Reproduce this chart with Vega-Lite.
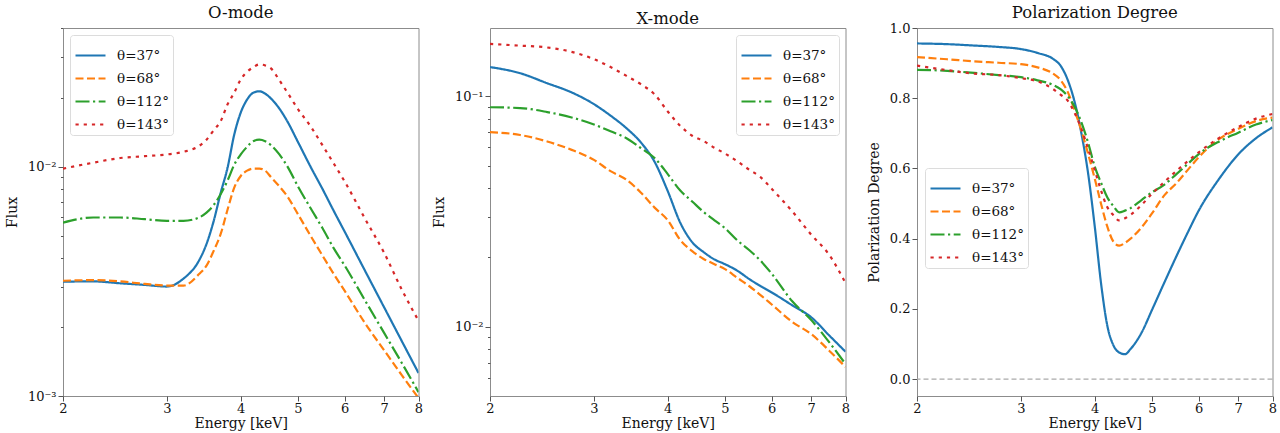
{
  "$schema": "https://vega.github.io/schema/vega-lite/v6.json",
  "padding": {"left": 4, "top": 4, "right": 2, "bottom": 0},
  "spacing": 71,
  "bounds": "flush",
  "config": {
    "font": "DejaVu Serif",
    "view": {"stroke": "#8c8c8c", "strokeWidth": 1},
    "axis": {
      "domain": false, "grid": false,
      "labelFont": "DejaVu Serif", "labelFontSize": 13, "labelColor": "#111",
      "titleFont": "DejaVu Serif", "titleFontSize": 14, "titleFontWeight": "normal", "titleColor": "#111",
      "tickColor": "#555", "labelFlush": false, "labelOverlap": false
    },
    "title": {"font": "DejaVu Serif", "fontSize": 16.5, "fontWeight": "normal", "color": "#111", "offset": 1},
    "legend": {
      "symbolType": "stroke", "symbolStrokeWidth": 2.2, "symbolSize": 900,
      "labelFont": "DejaVu Serif", "labelFontSize": 13.5, "labelColor": "#111",
      "fillColor": "white", "strokeColor": "#dcdcdc", "cornerRadius": 3,
      "padding": 4, "rowPadding": -5, "labelOffset": 10
    }
  },
  "datasets": {
    "omode": [
      {"E": 2.0, "θ=37°": 0.00315, "θ=68°": 0.00318, "θ=112°": 0.0057, "θ=143°": 0.0098},
      {"E": 2.25, "θ=37°": 0.00316, "θ=68°": 0.0032, "θ=112°": 0.0060, "θ=143°": 0.0104},
      {"E": 2.5, "θ=37°": 0.0031, "θ=68°": 0.00316, "θ=112°": 0.0060, "θ=143°": 0.0109},
      {"E": 2.75, "θ=37°": 0.00305, "θ=68°": 0.00308, "θ=112°": 0.0059, "θ=143°": 0.0111},
      {"E": 3.0, "θ=37°": 0.0030, "θ=68°": 0.00303, "θ=112°": 0.0058, "θ=143°": 0.0113},
      {"E": 3.2, "θ=37°": 0.00325, "θ=68°": 0.00303, "θ=112°": 0.0058, "θ=143°": 0.0116},
      {"E": 3.4, "θ=37°": 0.0039, "θ=68°": 0.0034, "θ=112°": 0.0060, "θ=143°": 0.0123},
      {"E": 3.5, "θ=37°": 0.0046, "θ=68°": 0.0037, "θ=112°": 0.0063, "θ=143°": 0.0131},
      {"E": 3.6, "θ=37°": 0.0058, "θ=68°": 0.0043, "θ=112°": 0.0068, "θ=143°": 0.0144},
      {"E": 3.7, "θ=37°": 0.0077, "θ=68°": 0.0051, "θ=112°": 0.0076, "θ=143°": 0.0158},
      {"E": 3.8, "θ=37°": 0.0099, "θ=68°": 0.0065, "θ=112°": 0.0087, "θ=143°": 0.0187},
      {"E": 3.9, "θ=37°": 0.0138, "θ=68°": 0.0081, "θ=112°": 0.0102, "θ=143°": 0.0210},
      {"E": 4.0, "θ=37°": 0.0172, "θ=68°": 0.0091, "θ=112°": 0.0113, "θ=143°": 0.0240},
      {"E": 4.1, "θ=37°": 0.0196, "θ=68°": 0.0096, "θ=112°": 0.0122, "θ=143°": 0.0259},
      {"E": 4.2, "θ=37°": 0.0210, "θ=68°": 0.0098, "θ=112°": 0.0129, "θ=143°": 0.0271},
      {"E": 4.3, "θ=37°": 0.0213, "θ=68°": 0.0098, "θ=112°": 0.0131, "θ=143°": 0.0279},
      {"E": 4.4, "θ=37°": 0.0208, "θ=68°": 0.0096, "θ=112°": 0.0129, "θ=143°": 0.0276},
      {"E": 4.5, "θ=37°": 0.0198, "θ=68°": 0.0090, "θ=112°": 0.0124, "θ=143°": 0.0268},
      {"E": 4.65, "θ=37°": 0.0179, "θ=68°": 0.0082, "θ=112°": 0.0113, "θ=143°": 0.0238},
      {"E": 4.8, "θ=37°": 0.0157, "θ=68°": 0.0074, "θ=112°": 0.0100, "θ=143°": 0.0210},
      {"E": 5.0, "θ=37°": 0.0128, "θ=68°": 0.0062, "θ=112°": 0.0082, "θ=143°": 0.0178},
      {"E": 5.25, "θ=37°": 0.0100, "θ=68°": 0.0050, "θ=112°": 0.0066, "θ=143°": 0.0150},
      {"E": 5.5, "θ=37°": 0.0080, "θ=68°": 0.0041, "θ=112°": 0.0054, "θ=143°": 0.0124},
      {"E": 5.75, "θ=37°": 0.0064, "θ=68°": 0.0034, "θ=112°": 0.0044, "θ=143°": 0.0103},
      {"E": 6.0, "θ=37°": 0.0052, "θ=68°": 0.00287, "θ=112°": 0.0037, "θ=143°": 0.0086},
      {"E": 6.5, "θ=37°": 0.0035, "θ=68°": 0.00207, "θ=112°": 0.0026, "θ=143°": 0.0059},
      {"E": 7.0, "θ=37°": 0.00243, "θ=68°": 0.00158, "θ=112°": 0.00188, "θ=143°": 0.0042},
      {"E": 7.5, "θ=37°": 0.00173, "θ=68°": 0.00123, "θ=112°": 0.00139, "θ=143°": 0.0029},
      {"E": 8.0, "θ=37°": 0.00126, "θ=68°": 0.00098, "θ=112°": 0.00104, "θ=143°": 0.00213}
    ],
    "xmode": [
      {"E": 2.0, "θ=37°": 0.134, "θ=68°": 0.070, "θ=112°": 0.0897, "θ=143°": 0.169},
      {"E": 2.25, "θ=37°": 0.126, "θ=68°": 0.068, "θ=112°": 0.089, "θ=143°": 0.166},
      {"E": 2.5, "θ=37°": 0.114, "θ=68°": 0.0637, "θ=112°": 0.0855, "θ=143°": 0.163},
      {"E": 2.75, "θ=37°": 0.104, "θ=68°": 0.0586, "θ=112°": 0.081, "θ=143°": 0.156},
      {"E": 3.0, "θ=37°": 0.0925, "θ=68°": 0.053, "θ=112°": 0.0755, "θ=143°": 0.145},
      {"E": 3.2, "θ=37°": 0.0825, "θ=68°": 0.0474, "θ=112°": 0.0705, "θ=143°": 0.134},
      {"E": 3.4, "θ=37°": 0.073, "θ=68°": 0.0436, "θ=112°": 0.066, "θ=143°": 0.123},
      {"E": 3.6, "θ=37°": 0.0632, "θ=68°": 0.0383, "θ=112°": 0.0597, "θ=143°": 0.113},
      {"E": 3.8, "θ=37°": 0.052, "θ=68°": 0.0329, "θ=112°": 0.054, "θ=143°": 0.102},
      {"E": 4.0, "θ=37°": 0.0388, "θ=68°": 0.029, "θ=112°": 0.046, "θ=143°": 0.086},
      {"E": 4.2, "θ=37°": 0.0283, "θ=68°": 0.0238, "θ=112°": 0.039, "θ=143°": 0.0745},
      {"E": 4.4, "θ=37°": 0.0233, "θ=68°": 0.0213, "θ=112°": 0.035, "θ=143°": 0.0675},
      {"E": 4.6, "θ=37°": 0.0211, "θ=68°": 0.0197, "θ=112°": 0.0315, "θ=143°": 0.064},
      {"E": 4.8, "θ=37°": 0.0196, "θ=68°": 0.0187, "θ=112°": 0.029, "θ=143°": 0.0598},
      {"E": 5.0, "θ=37°": 0.0187, "θ=68°": 0.0178, "θ=112°": 0.0268, "θ=143°": 0.0565},
      {"E": 5.25, "θ=37°": 0.0175, "θ=68°": 0.0163, "θ=112°": 0.0237, "θ=143°": 0.0522},
      {"E": 5.5, "θ=37°": 0.0161, "θ=68°": 0.015, "θ=112°": 0.0215, "θ=143°": 0.048},
      {"E": 5.75, "θ=37°": 0.015, "θ=68°": 0.0137, "θ=112°": 0.0193, "θ=143°": 0.0445},
      {"E": 6.0, "θ=37°": 0.0141, "θ=68°": 0.0125, "θ=112°": 0.017, "θ=143°": 0.0397},
      {"E": 6.5, "θ=37°": 0.0124, "θ=68°": 0.0105, "θ=112°": 0.0129, "θ=143°": 0.0317},
      {"E": 7.0, "θ=37°": 0.011, "θ=68°": 0.0093, "θ=112°": 0.0107, "θ=143°": 0.0251},
      {"E": 7.5, "θ=37°": 0.0092, "θ=68°": 0.0079, "θ=112°": 0.0086, "θ=143°": 0.0206},
      {"E": 8.0, "θ=37°": 0.0078, "θ=68°": 0.0067, "θ=112°": 0.0069, "θ=143°": 0.0155}
    ],
    "poldeg": [
      {"E": 2.0, "θ=37°": 0.956, "θ=68°": 0.917, "θ=112°": 0.881, "θ=143°": 0.893},
      {"E": 2.25, "θ=37°": 0.954, "θ=68°": 0.911, "θ=112°": 0.878, "θ=143°": 0.880},
      {"E": 2.5, "θ=37°": 0.950, "θ=68°": 0.905, "θ=112°": 0.872, "θ=143°": 0.870},
      {"E": 2.75, "θ=37°": 0.946, "θ=68°": 0.901, "θ=112°": 0.866, "θ=143°": 0.866},
      {"E": 3.0, "θ=37°": 0.940, "θ=68°": 0.897, "θ=112°": 0.860, "θ=143°": 0.857},
      {"E": 3.2, "θ=37°": 0.929, "θ=68°": 0.888, "θ=112°": 0.851, "θ=143°": 0.848},
      {"E": 3.4, "θ=37°": 0.912, "θ=68°": 0.870, "θ=112°": 0.838, "θ=143°": 0.826},
      {"E": 3.5, "θ=37°": 0.893, "θ=68°": 0.852, "θ=112°": 0.826, "θ=143°": 0.810},
      {"E": 3.6, "θ=37°": 0.852, "θ=68°": 0.818, "θ=112°": 0.806, "θ=143°": 0.793},
      {"E": 3.7, "θ=37°": 0.788, "θ=68°": 0.764, "θ=112°": 0.775, "θ=143°": 0.757},
      {"E": 3.8, "θ=37°": 0.697, "θ=68°": 0.706, "θ=112°": 0.730, "θ=143°": 0.711},
      {"E": 3.9, "θ=37°": 0.583, "θ=68°": 0.640, "θ=112°": 0.672, "θ=143°": 0.655},
      {"E": 4.0, "θ=37°": 0.435, "θ=68°": 0.571, "θ=112°": 0.605, "θ=143°": 0.595},
      {"E": 4.1, "θ=37°": 0.272, "θ=68°": 0.499, "θ=112°": 0.559, "θ=143°": 0.537},
      {"E": 4.2, "θ=37°": 0.153, "θ=68°": 0.435, "θ=112°": 0.518, "θ=143°": 0.490},
      {"E": 4.3, "θ=37°": 0.097, "θ=68°": 0.392, "θ=112°": 0.493, "θ=143°": 0.467},
      {"E": 4.4, "θ=37°": 0.076, "θ=68°": 0.380, "θ=112°": 0.475, "θ=143°": 0.452},
      {"E": 4.5, "θ=37°": 0.071, "θ=68°": 0.388, "θ=112°": 0.480, "θ=143°": 0.458},
      {"E": 4.6, "θ=37°": 0.086, "θ=68°": 0.400, "θ=112°": 0.487, "θ=143°": 0.468},
      {"E": 4.8, "θ=37°": 0.132, "θ=68°": 0.432, "θ=112°": 0.510, "θ=143°": 0.496},
      {"E": 5.0, "θ=37°": 0.197, "θ=68°": 0.472, "θ=112°": 0.532, "θ=143°": 0.528},
      {"E": 5.25, "θ=37°": 0.276, "θ=68°": 0.524, "θ=112°": 0.554, "θ=143°": 0.562},
      {"E": 5.5, "θ=37°": 0.350, "θ=68°": 0.558, "θ=112°": 0.584, "θ=143°": 0.593},
      {"E": 5.75, "θ=37°": 0.418, "θ=68°": 0.596, "θ=112°": 0.613, "θ=143°": 0.621},
      {"E": 6.0, "θ=37°": 0.480, "θ=68°": 0.632, "θ=112°": 0.641, "θ=143°": 0.646},
      {"E": 6.5, "θ=37°": 0.571, "θ=68°": 0.684, "θ=112°": 0.677, "θ=143°": 0.687},
      {"E": 7.0, "θ=37°": 0.640, "θ=68°": 0.713, "θ=112°": 0.702, "θ=143°": 0.718},
      {"E": 7.5, "θ=37°": 0.686, "θ=68°": 0.735, "θ=112°": 0.725, "θ=143°": 0.742},
      {"E": 8.0, "θ=37°": 0.717, "θ=68°": 0.745, "θ=112°": 0.738, "θ=143°": 0.755}
    ]
  },
  "hconcat": [
    {
      "title": {"text": "O-mode"},
      "width": 355.5,
      "height": 368,
      "data": {"name": "omode"},
      "transform": [{"fold": ["θ=37°", "θ=68°", "θ=112°", "θ=143°"], "as": ["series", "v"]}],
      "mark": {"type": "line", "clip": true, "interpolate": "monotone"},
      "encoding": {
        "x": {"field": "E", "type": "quantitative", "scale": {"type": "log", "domain": [2, 8], "nice": false},
              "axis": {"title": "Energy [keV]", "values": [2, 3, 4, 5, 6, 7, 8], "format": "d", "tickSize": 5, "labelPadding": 1, "titlePadding": 1}},
        "y": {"field": "v", "type": "quantitative", "scale": {"type": "log", "domain": [0.001, 0.0402], "nice": false},
              "axis": {"title": "Flux", "titlePadding": 8,
                       "values": [0.001, 0.002, 0.003, 0.004, 0.005, 0.006, 0.007, 0.008, 0.009, 0.01, 0.02, 0.03, 0.04],
                       "labelExpr": "abs(datum.value-0.1)<1e-9 ? '10⁻¹' : abs(datum.value-0.01)<1e-9 ? '10⁻²' : abs(datum.value-0.001)<1e-9 ? '10⁻³' : ''",
                       "tickSize": {"condition": {"test": "abs(datum.value-0.1)<1e-9 || abs(datum.value-0.01)<1e-9 || abs(datum.value-0.001)<1e-9", "value": 5}, "value": 2.5}}},
        "color": {"field": "series", "type": "nominal", "sort": null,
                  "scale": {"domain": ["θ=37°", "θ=68°", "θ=112°", "θ=143°"], "range": ["#1f77b4", "#ff7f0e", "#2ca02c", "#d62728"]},
                  "legend": {"title": null, "orient": "top-left", "offset": 7}},
        "strokeDash": {"field": "series", "type": "nominal", "sort": null,
                       "scale": {"domain": ["θ=37°", "θ=68°", "θ=112°", "θ=143°"], "range": [[1, 0], [8, 3.5], [14, 3.5, 2.2, 3.5], [3.2, 5]]},
                       "legend": {"title": null, "orient": "top-left", "offset": 7}},
        "strokeWidth": {"field": "series", "type": "nominal", "sort": null,
                        "scale": {"domain": ["θ=37°", "θ=68°", "θ=112°", "θ=143°"], "range": [2.2, 2.2, 2.2, 3]}, "legend": null}
      }
    },
    {
      "title": {"text": "X-mode"},
      "width": 355.5,
      "height": 368,
      "data": {"name": "xmode"},
      "transform": [{"fold": ["θ=37°", "θ=68°", "θ=112°", "θ=143°"], "as": ["series", "v"]}],
      "mark": {"type": "line", "clip": true, "interpolate": "monotone"},
      "encoding": {
        "x": {"field": "E", "type": "quantitative", "scale": {"type": "log", "domain": [2, 8], "nice": false},
              "axis": {"title": "Energy [keV]", "values": [2, 3, 4, 5, 6, 7, 8], "format": "d", "tickSize": 5, "labelPadding": 1, "titlePadding": 1}},
        "y": {"field": "v", "type": "quantitative", "scale": {"type": "log", "domain": [0.00501, 0.198], "nice": false},
              "axis": {"title": "Flux", "titlePadding": 8,
                       "values": [0.006, 0.007, 0.008, 0.009, 0.01, 0.02, 0.03, 0.04, 0.05, 0.06, 0.07, 0.08, 0.09, 0.1],
                       "labelExpr": "abs(datum.value-0.1)<1e-9 ? '10⁻¹' : abs(datum.value-0.01)<1e-9 ? '10⁻²' : abs(datum.value-0.001)<1e-9 ? '10⁻³' : ''",
                       "tickSize": {"condition": {"test": "abs(datum.value-0.1)<1e-9 || abs(datum.value-0.01)<1e-9 || abs(datum.value-0.001)<1e-9", "value": 5}, "value": 2.5}}},
        "color": {"field": "series", "type": "nominal", "sort": null,
                  "scale": {"domain": ["θ=37°", "θ=68°", "θ=112°", "θ=143°"], "range": ["#1f77b4", "#ff7f0e", "#2ca02c", "#d62728"]},
                  "legend": {"title": null, "orient": "top-right", "offset": 7}},
        "strokeDash": {"field": "series", "type": "nominal", "sort": null,
                       "scale": {"domain": ["θ=37°", "θ=68°", "θ=112°", "θ=143°"], "range": [[1, 0], [8, 3.5], [14, 3.5, 2.2, 3.5], [3.2, 5]]},
                       "legend": {"title": null, "orient": "top-right", "offset": 7}},
        "strokeWidth": {"field": "series", "type": "nominal", "sort": null,
                        "scale": {"domain": ["θ=37°", "θ=68°", "θ=112°", "θ=143°"], "range": [2.2, 2.2, 2.2, 3]}, "legend": null}
      }
    },
    {
      "title": {"text": "Polarization Degree"},
      "width": 355.5,
      "height": 368,
      "layer": [
        {
          "data": {"values": [{"zero": 0}]},
          "mark": {"type": "rule", "color": "#aaaaaa", "strokeWidth": 1.3, "strokeDash": [5, 3]},
          "encoding": {"y": {"field": "zero", "type": "quantitative"}}
        },
        {
          "data": {"name": "poldeg"},
          "transform": [{"fold": ["θ=37°", "θ=68°", "θ=112°", "θ=143°"], "as": ["series", "v"]}],
          "mark": {"type": "line", "clip": true, "interpolate": "monotone"},
          "encoding": {
            "x": {"field": "E", "type": "quantitative", "scale": {"type": "log", "domain": [2, 8], "nice": false},
                  "axis": {"title": "Energy [keV]", "values": [2, 3, 4, 5, 6, 7, 8], "format": "d", "tickSize": 5, "labelPadding": 1, "titlePadding": 1}},
            "y": {"field": "v", "type": "quantitative", "scale": {"domain": [-0.048, 1.0], "nice": false, "zero": false},
                  "axis": {"title": "Polarization Degree", "titlePadding": 8, "values": [0, 0.2, 0.4, 0.6, 0.8, 1.0], "format": ".1f", "tickSize": 5}},
            "color": {"field": "series", "type": "nominal", "sort": null,
                      "scale": {"domain": ["θ=37°", "θ=68°", "θ=112°", "θ=143°"], "range": ["#1f77b4", "#ff7f0e", "#2ca02c", "#d62728"]},
                      "legend": {"title": null, "orient": "none", "legendX": 8, "legendY": 140}},
            "strokeDash": {"field": "series", "type": "nominal", "sort": null,
                           "scale": {"domain": ["θ=37°", "θ=68°", "θ=112°", "θ=143°"], "range": [[1, 0], [8, 3.5], [14, 3.5, 2.2, 3.5], [3.2, 5]]},
                           "legend": {"title": null, "orient": "none", "legendX": 8, "legendY": 140}},
            "strokeWidth": {"field": "series", "type": "nominal", "sort": null,
                            "scale": {"domain": ["θ=37°", "θ=68°", "θ=112°", "θ=143°"], "range": [2.2, 2.2, 2.2, 3]}, "legend": null}
          }
        }
      ]
    }
  ],
  "resolve": {
    "scale": {"x": "independent", "y": "independent", "color": "independent", "strokeDash": "independent", "strokeWidth": "independent"},
    "legend": {"color": "independent", "strokeDash": "independent"}
  }
}
